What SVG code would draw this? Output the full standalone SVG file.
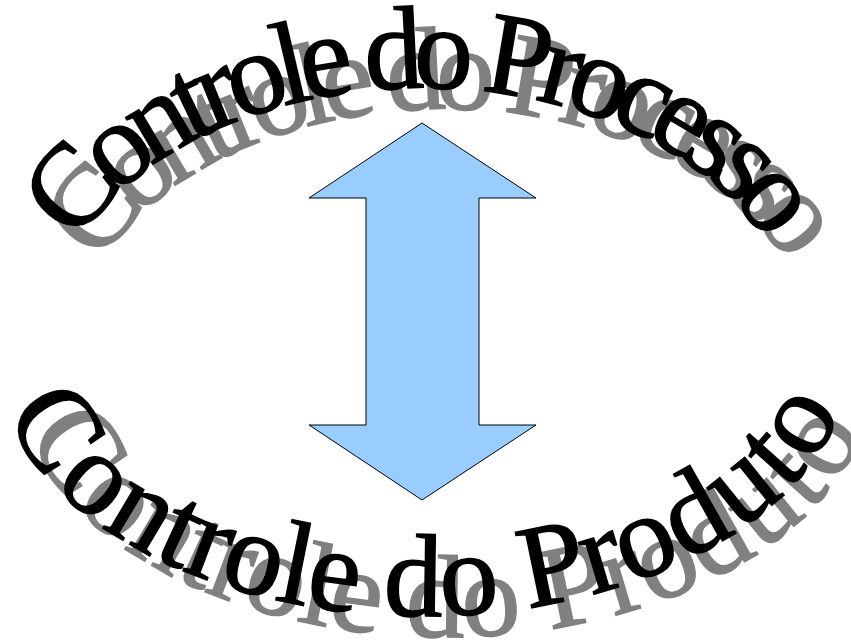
<svg xmlns="http://www.w3.org/2000/svg" xmlns:xlink="http://www.w3.org/1999/xlink" width="851" height="640" viewBox="0 0 851 640">
<style>
.wa{font-family:"Liberation Serif","Times New Roman",serif;font-size:118px;}
.shadow{fill:#808080;stroke:#808080;stroke-width:1.5}
.main{fill:#000000;stroke:#000000;stroke-width:1.5}
.arrow{fill:#99ccff;stroke:#000000;stroke-width:1}
</style>
<defs>
<path id="arcTop" d="M 12,332 A 410,284 0 0 1 832,332"/>
<path id="arcBot" d="M 32,343 A 391,233 0 0 0 814,343"/>
<text id="tTop" class="wa" text-anchor="middle"><textPath href="#arcTop" xlink:href="#arcTop" startOffset="50%" textLength="858" lengthAdjust="spacing"><tspan dy="40">Controle do Processo</tspan></textPath></text>
<text id="tBot" class="wa" text-anchor="middle"><textPath href="#arcBot" xlink:href="#arcBot" startOffset="50%" textLength="896" lengthAdjust="spacing"><tspan dy="40">Controle do Produto</tspan></textPath></text>
</defs>
<g id="arrow">
<polygon class="arrow" points="422,123 536,198 479,198 479,425 536,425 422,500 309,425 366,425 366,198 309,198"/>
</g>
<g id="label-processo">
<use href="#tTop" xlink:href="#tTop" class="shadow" transform="translate(22,21)"/>
<use href="#tTop" xlink:href="#tTop" class="main"/>
</g>
<g id="label-produto">
<use href="#tBot" xlink:href="#tBot" class="shadow" transform="translate(22,21)"/>
<use href="#tBot" xlink:href="#tBot" class="main"/>
</g>
</svg>
